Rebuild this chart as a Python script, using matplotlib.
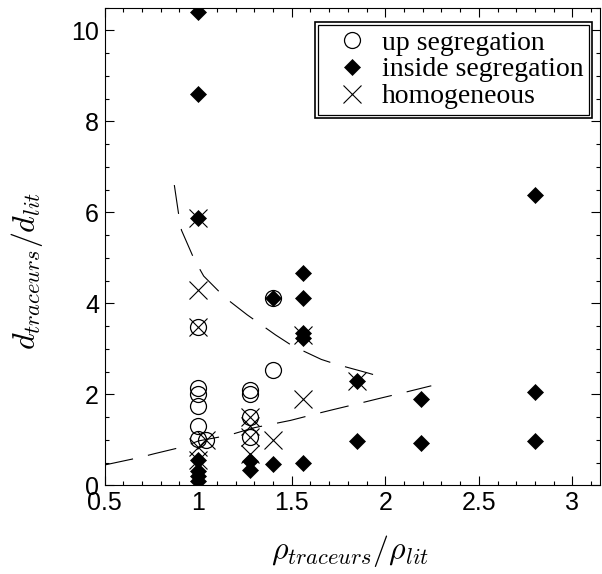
import matplotlib
matplotlib.use("Agg")
import matplotlib.pyplot as plt
from matplotlib.patches import Rectangle
from matplotlib.ticker import MultipleLocator, FuncFormatter

plt.rcParams['mathtext.fontset'] = 'cm'
plt.rcParams['lines.scale_dashes'] = False

# up segregation (open circles)
up_x = [1.0, 1.0, 1.0, 1.0, 1.0, 1.0, 1.04, 1.28, 1.28, 1.28, 1.28, 1.40, 1.40]
up_y = [3.49, 2.15, 2.00, 1.74, 1.30, 1.02, 0.99, 2.10, 2.02, 1.51, 1.07, 4.12, 2.53]

# inside segregation (filled diamonds)
in_x = [1.0, 1.0, 1.0, 1.0, 1.0, 1.0, 1.0, 1.28, 1.28, 1.40, 1.40,
        1.56, 1.56, 1.56, 1.56, 1.56, 1.85, 1.85, 2.19, 2.19, 2.80, 2.80, 2.80]
in_y = [10.41, 8.59, 5.87, 0.57, 0.32, 0.20, 0.10, 0.54, 0.33, 4.12, 0.48,
        4.67, 4.12, 3.35, 3.24, 0.50, 2.30, 0.98, 1.91, 0.94, 6.39, 2.05, 0.97]

# homogeneous (crosses)
ho_x = [1.0, 1.0, 1.0, 1.0, 1.0, 1.04, 1.28, 1.28, 1.28, 1.28, 1.40, 1.56, 1.56, 1.85]
ho_y = [5.87, 4.30, 3.49, 0.85, 0.57, 0.99, 1.51, 1.30, 1.07, 0.70, 0.99, 3.30, 1.91, 2.30]

# dashed boundaries
upper_x = [0.873, 0.896, 0.911, 0.979, 1.030, 1.146, 1.262, 1.413, 1.503, 1.658, 1.740, 1.900, 1.984]
upper_y = [6.60, 5.96, 5.61, 4.97, 4.60, 4.12, 3.75, 3.31, 3.07, 2.77, 2.66, 2.48, 2.38]
lower_x = [0.50, 0.682, 0.768, 0.920, 1.003, 1.160, 1.301, 1.494, 1.636, 1.725, 1.877, 1.966, 2.118, 2.246]
lower_y = [0.45, 0.61, 0.70, 0.85, 0.98, 1.10, 1.27, 1.43, 1.58, 1.67, 1.82, 1.91, 2.06, 2.19]

fig = plt.figure(figsize=(6.02, 5.74), dpi=100)
ax = fig.add_axes([0.1736, 0.1542, 0.8239, 0.8327])

ax.plot(upper_x, upper_y, color='black', lw=0.8, dashes=(21, 11))
ax.plot(lower_x, lower_y, color='black', lw=0.8, dashes=(21, 11))

ax.plot(up_x, up_y, 'o', ms=11.5, mfc='none', mec='black', mew=0.9, label='up segregation')
ax.plot(in_x, in_y, 'D', ms=8.5, mfc='black', mec='black', mew=0.5, label='inside segregation')
ax.plot(ho_x, ho_y, 'x', ms=13.5, mec='black', mew=0.8, label='homogeneous')

ax.set_xlim(0.5, 3.15)
ax.set_ylim(0, 10.5)
ax.xaxis.set_major_locator(MultipleLocator(0.5))
ax.xaxis.set_minor_locator(MultipleLocator(0.1))
ax.yaxis.set_major_locator(MultipleLocator(2))
ax.yaxis.set_minor_locator(MultipleLocator(0.5))
ax.xaxis.set_major_formatter(FuncFormatter(lambda v, p: '%g' % v))
ax.yaxis.set_major_formatter(FuncFormatter(lambda v, p: '%g' % v))
ax.tick_params(which='both', direction='in', top=True, right=True, width=0.8)
ax.tick_params(which='major', length=6.3, pad=4)
ax.tick_params(which='minor', length=3.2)
for lab in ax.get_xticklabels() + ax.get_yticklabels():
    lab.set_fontfamily('Liberation Sans')
    lab.set_fontsize(18)

ax.set_xlabel(r'$\rho_{traceurs}/\rho_{lit}$', fontsize=23)
ax.set_ylabel(r'$d_{traceurs}/d_{lit}$', fontsize=23)
ax.xaxis.set_label_coords(0.495, -0.1)
ax.yaxis.set_label_coords(-0.12, 0.45)

leg = ax.legend(loc='upper right', bbox_to_anchor=(0.983, 0.970), borderaxespad=0,
                prop={'family': 'Liberation Serif', 'size': 20}, fancybox=False,
                edgecolor='black', framealpha=1, handlelength=2.0, handletextpad=0.1,
                labelspacing=0.05, borderpad=0.3, numpoints=1)
leg.get_frame().set_linewidth(1.2)

fig.canvas.draw()
bb = leg.get_frame().get_window_extent().transformed(fig.transFigure.inverted())
dx = 3.0 / fig.bbox.width
dy = 3.0 / fig.bbox.height
fig.patches.append(Rectangle((bb.x0 + dx, bb.y0 + dy), bb.width - 2 * dx, bb.height - 2 * dy,
                             transform=fig.transFigure, fill=False, lw=0.9, ec='black'))

fig.savefig('out.png', dpi=100)
